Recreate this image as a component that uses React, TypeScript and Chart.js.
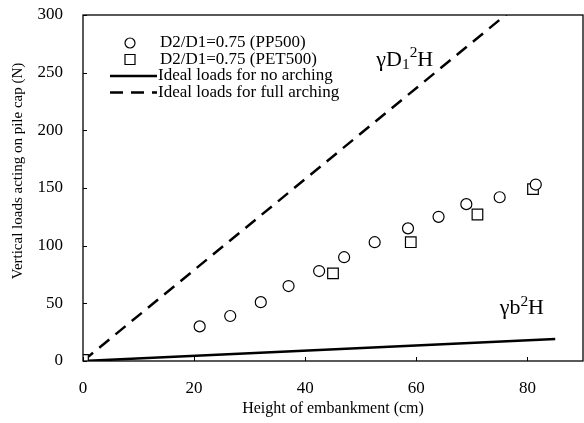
import React, { useEffect, useRef } from "react";
import { Chart, registerables } from "chart.js";

Chart.register(...registerables);

// ---- data ----
const ppHeights = [21, 26.5, 32, 37, 42.5, 47, 52.5, 58.5, 64, 69, 75, 81.5];
const ppLoads = [30, 39, 51, 65, 78, 90, 103, 115, 125, 136, 142, 153];
const petHeights = [0, 45, 59, 71, 81];
const petLoads = [1, 76, 103, 127, 149];
const noArchHeights = [0, 85];
const noArchLoads = [0, 19];
const fullArchHeights = [0, 90];
const fullArchLoads = [0, 355];
const xTickValues = [0, 20, 40, 60, 80];
const yTickValues = [0, 50, 100, 150, 200, 250, 300];
const seriesLabels = [
  "D2/D1=0.75 (PP500)",
  "D2/D1=0.75 (PET500)",
  "Ideal loads for no arching",
  "Ideal loads for full arching",
];
const xTitle = "Height of embankment (cm)";
const yTitle = "Vertical loads acting on pile cap (N)";

const FONT = "'Liberation Serif', 'DejaVu Serif', serif";

const zip = (xs: number[], ys: number[]) => xs.map((x, i) => ({ x, y: ys[i] }));

const framePlugin = {
  id: "frame",
  afterDatasetsDraw(chart: any) {
    const { ctx, chartArea, scales } = chart;
    const { left, right, top, bottom } = chartArea;
    ctx.save();
    ctx.strokeStyle = "#000";
    ctx.lineWidth = 1.3;
    ctx.strokeRect(left, top, right - left, bottom - top);
    ctx.lineWidth = 1;
    ctx.beginPath();
    xTickValues.forEach((v) => {
      const px = Math.round(scales.x.getPixelForValue(v)) + 0.5;
      ctx.moveTo(px, bottom);
      ctx.lineTo(px, bottom - 4);
    });
    yTickValues.forEach((v) => {
      const py = Math.round(scales.y.getPixelForValue(v)) + 0.5;
      ctx.moveTo(left, py);
      ctx.lineTo(left + 4, py);
    });
    ctx.stroke();
    ctx.restore();
  },
};

const legendPlugin = {
  id: "inlineLegend",
  afterDraw(chart: any) {
    const { ctx, chartArea } = chart;
    const mx = chartArea.left + 47;
    const y0 = chartArea.top + 28;
    const dy = 16.5;
    ctx.save();
    ctx.fillStyle = "#000";
    ctx.strokeStyle = "#000";
    ctx.font = `17px ${FONT}`;
    ctx.textBaseline = "middle";
    ctx.textAlign = "left";
    // circle
    ctx.lineWidth = 1.2;
    ctx.beginPath();
    ctx.arc(mx, y0, 5, 0, Math.PI * 2);
    ctx.fillStyle = "#fff";
    ctx.fill();
    ctx.stroke();
    ctx.fillStyle = "#000";
    ctx.fillText(seriesLabels[0], mx + 30, y0);
    // square
    ctx.beginPath();
    ctx.rect(mx - 5, y0 + dy - 5, 10, 10);
    ctx.fillStyle = "#fff";
    ctx.fill();
    ctx.stroke();
    ctx.fillStyle = "#000";
    ctx.fillText(seriesLabels[1], mx + 30, y0 + dy);
    // solid line
    ctx.lineWidth = 2.5;
    ctx.beginPath();
    ctx.moveTo(mx - 20, y0 + 2 * dy);
    ctx.lineTo(mx + 27, y0 + 2 * dy);
    ctx.stroke();
    ctx.fillText(seriesLabels[2], mx + 28, y0 + 2 * dy);
    // dashed line
    ctx.setLineDash([13, 8]);
    ctx.beginPath();
    ctx.moveTo(mx - 20, y0 + 3 * dy);
    ctx.lineTo(mx + 27, y0 + 3 * dy);
    ctx.stroke();
    ctx.setLineDash([]);
    ctx.fillText(seriesLabels[3], mx + 28, y0 + 3 * dy);
    ctx.restore();
  },
};

function drawFormula(ctx: any, x: number, y: number, parts: [string, string][], size: number) {
  let cx = x;
  parts.forEach(([t, kind]) => {
    if (kind === "n") {
      ctx.font = `${size}px ${FONT}`;
      ctx.fillText(t, cx, y);
    } else if (kind === "sub") {
      ctx.font = `${size * 0.7}px ${FONT}`;
      ctx.fillText(t, cx, y + size * 0.15);
    } else {
      ctx.font = `${size * 0.7}px ${FONT}`;
      ctx.fillText(t, cx, y - size * 0.38);
    }
    cx += ctx.measureText(t).width;
  });
}

const annotationPlugin = {
  id: "formulas",
  afterDraw(chart: any) {
    const { ctx, scales, chartArea } = chart;
    ctx.save();
    ctx.fillStyle = "#000";
    ctx.textBaseline = "alphabetic";
    ctx.textAlign = "left";
    drawFormula(
      ctx,
      scales.x.getPixelForValue(52.8),
      scales.y.getPixelForValue(256),
      [["γD", "n"], ["1", "sub"], ["2", "sup"], ["H", "n"]],
      22
    );
    drawFormula(
      ctx,
      scales.x.getPixelForValue(75),
      scales.y.getPixelForValue(40.5),
      [["γb", "n"], ["2", "sup"], ["H", "n"]],
      22
    );
    // y-axis title
    ctx.font = `15px ${FONT}`;
    ctx.textAlign = "center";
    ctx.textBaseline = "middle";
    ctx.translate(18, chartArea.top + 156);
    ctx.rotate(-Math.PI / 2);
    ctx.fillText(yTitle, 0, 0);
    ctx.restore();
  },
};

const zeroPad = (s: any) => {
  s.paddingTop = 0;
  s.paddingBottom = 0;
  s.paddingLeft = 0;
  s.paddingRight = 0;
};

export default function App() {
  const ref = useRef<HTMLCanvasElement | null>(null);
  useEffect(() => {
    if (!ref.current) return;
    const chart = new Chart(ref.current, {
      type: "scatter",
      data: {
        datasets: [
          {
            label: seriesLabels[0],
            data: zip(ppHeights, ppLoads),
            pointStyle: "circle",
            pointRadius: 5.5,
            borderColor: "#000",
            backgroundColor: "#fff",
            borderWidth: 1.2,
            order: 1,
          },
          {
            label: seriesLabels[1],
            data: zip(petHeights, petLoads),
            pointStyle: "rect",
            pointRadius: 7.5,
            borderColor: "#000",
            backgroundColor: "#fff",
            borderWidth: 1.2,
            order: 1,
          },
          {
            label: seriesLabels[2],
            data: zip(noArchHeights, noArchLoads),
            showLine: true,
            pointRadius: 0,
            borderColor: "#000",
            borderWidth: 2.5,
            order: 2,
          },
          {
            label: seriesLabels[3],
            data: zip(fullArchHeights, fullArchLoads),
            showLine: true,
            pointRadius: 0,
            borderColor: "#000",
            borderWidth: 2.5,
            borderDash: [13, 8],
            order: 2,
          },
        ],
      },
      options: {
        animation: false,
        responsive: false,
        maintainAspectRatio: false,
        layout: { autoPadding: false, padding: { top: 15, right: 1, left: 0, bottom: 0 } },
        plugins: {
          legend: { display: false },
          tooltip: { enabled: false },
        },
        scales: {
          x: {
            type: "linear",
            min: 0,
            max: 90,
            grid: { display: false, drawTicks: false },
            border: { display: false },
            afterBuildTicks: (s: any) => {
              s.ticks = xTickValues.map((v) => ({ value: v }));
            },
            afterFit: (s: any) => {
              s.height = 62;
              zeroPad(s);
            },
            ticks: {
              padding: 17,
              color: "#000",
              font: { family: FONT, size: 17 },
              maxRotation: 0,
            },
            title: {
              display: true,
              text: xTitle,
              color: "#000",
              font: { family: FONT, size: 16 },
              padding: { top: 0, bottom: 5 },
            },
          },
          y: {
            type: "linear",
            min: 0,
            max: 300,
            grid: { display: false, drawTicks: false },
            border: { display: false },
            afterBuildTicks: (s: any) => {
              s.ticks = yTickValues.map((v) => ({ value: v }));
            },
            afterFit: (s: any) => {
              s.width = 83;
              zeroPad(s);
            },
            ticks: {
              padding: 20,
              color: "#000",
              font: { family: FONT, size: 17 },
            },
            title: { display: false },
          },
        },
      },
      plugins: [framePlugin, legendPlugin, annotationPlugin],
    });
    return () => chart.destroy();
  }, []);
  return (
    <div style={{ position: "fixed", left: 0, top: 0, width: 584, height: 423, background: "#fff" }}>
      <canvas ref={ref} width={584} height={423} style={{ width: 584, height: 423 }} />
    </div>
  );
}
